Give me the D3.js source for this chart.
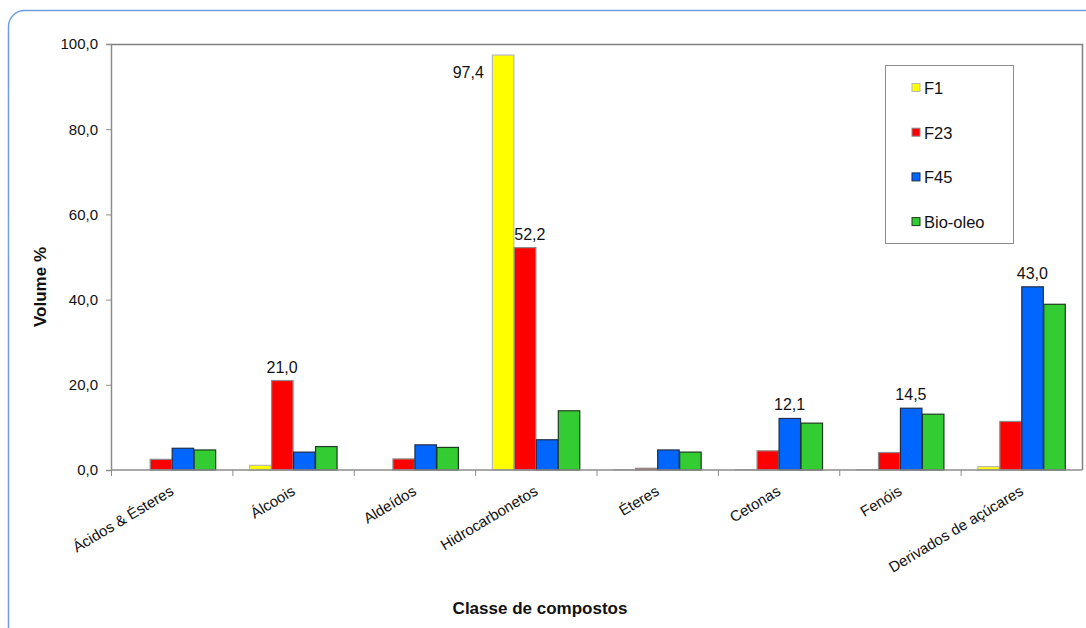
<!DOCTYPE html>
<html>
<head>
<meta charset="utf-8">
<script src="https://cdn.jsdelivr.net/npm/d3@7"></script>
<style>
  html, body { margin: 0; padding: 0; background: #fff; }
  svg { display: block; font-family: "Liberation Sans", Arial, sans-serif; }
</style>
</head>
<body>
<svg id="chart" width="1086" height="628"></svg>
<script>
// Compound classes (x axis)
const categories = [
  "Ácidos & Ésteres", "Álcoois", "Aldeídos", "Hidrocarbonetos",
  "Éteres", "Cetonas", "Fenóis", "Derivados de açúcares"
];

// Volume % per fraction
const seriesNames = ["F1", "F23", "F45", "Bio-oleo"];
const f1      = [0.0, 1.1, 0.0, 97.4, 0.1, 0.1, 0.1, 0.8];
const f23     = [2.5, 21.0, 2.6, 52.2, 0.4, 4.5, 4.1, 11.4];
const f45     = [5.1, 4.2, 5.9, 7.1, 4.7, 12.1, 14.5, 43.0];
const bioOleo = [4.7, 5.5, 5.3, 13.9, 4.2, 11.0, 13.1, 38.9];

// Y axis ticks
const yTicks = [0, 20, 40, 60, 80, 100];

// Values printed above their bars: [category index, series index]
const labelled = [[1, 1], [3, 0], [3, 1], [5, 2], [6, 2], [7, 2]];

const seriesValues = [f1, f23, f45, bioOleo];
const fills   = ["#FFFF00", "#FF0000", "#0066FF", "#33CC33"];
const strokes = ["#b8b8b8", "#8c8c8c", "#1f2d4a", "#1e3a1e"];

const fmt = v => d3.format(".1f")(v).replace(".", ",");

const svg = d3.select("#chart");

// Outer rounded frame
svg.append("rect")
  .attr("x", 8.5).attr("y", 10.5)
  .attr("width", 1100).attr("height", 640)
  .attr("rx", 16).attr("ry", 16)
  .attr("fill", "none")
  .attr("stroke", "#6f9fe0")
  .attr("stroke-width", 1.5);

const plot = { left: 111, right: 1082, top: 44, bottom: 470 };

const x = d3.scaleBand()
  .domain(categories)
  .range([plot.left, plot.right])
  .paddingInner(0).paddingOuter(0);

const xSub = d3.scaleBand()
  .domain(seriesNames)
  .range([0, x.bandwidth()])
  .paddingInner(0)
  .paddingOuter(0.76);

const y = d3.scaleLinear()
  .domain([0, 100])
  .range([plot.bottom, plot.top]);

// Plot area border (top and right)
svg.append("path")
  .attr("d", `M${plot.left},${plot.top + 0.5}H${plot.right + 0.5}V${plot.bottom}`)
  .attr("fill", "none")
  .attr("stroke", "#808080")
  .attr("stroke-width", 1.5);

// Bars
const groups = svg.append("g").selectAll("g")
  .data(categories)
  .join("g")
  .attr("transform", d => `translate(${x(d)},0)`);

groups.selectAll("rect")
  .data((d, i) => seriesNames.map((s, j) => ({ s, j, v: seriesValues[j][i] })))
  .join("rect")
  .filter(d => d.v > 0)
  .attr("x", d => xSub(d.s) + 0.5)
  .attr("y", d => y(d.v))
  .attr("width", xSub.bandwidth() - 0.5)
  .attr("height", d => y(0) - y(d.v))
  .attr("fill", d => fills[d.j])
  .attr("stroke", d => strokes[d.j])
  .attr("stroke-width", 1.2);

// Y axis
const yAxis = d3.axisLeft(y)
  .tickValues(yTicks)
  .tickSize(5)
  .tickPadding(8)
  .tickFormat(fmt);

const gy = svg.append("g")
  .attr("transform", `translate(${plot.left},0)`)
  .call(yAxis);
gy.select(".domain").attr("stroke", "#8c8c8c").attr("stroke-width", 1.5);
gy.selectAll(".tick line").attr("stroke", "#8c8c8c");
gy.selectAll(".tick text")
  .attr("font-size", 15)
  .attr("fill", "#111")
  .attr("font-family", "Liberation Sans, Arial, sans-serif");

// X axis: ticks at category boundaries
const gx = svg.append("g")
  .attr("transform", `translate(0,${plot.bottom})`);
gx.append("line")
  .attr("x1", plot.left).attr("x2", plot.right)
  .attr("stroke", "#8c8c8c").attr("stroke-width", 1.5);
gx.selectAll("line.tick")
  .data(categories)
  .join("line")
  .attr("class", "tick")
  .attr("x1", d => x(d) + 0.5).attr("x2", d => x(d) + 0.5)
  .attr("y1", 0).attr("y2", 6)
  .attr("stroke", "#8c8c8c");

gx.selectAll("text")
  .data(categories)
  .join("text")
  .attr("transform", d => `translate(${x(d) + x.bandwidth() / 2 + 3},${24}) rotate(-31)`)
  .attr("text-anchor", "end")
  .attr("font-size", 15)
  .attr("fill", "#111")
  .text(d => d);

// Value labels
svg.append("g").selectAll("text")
  .data(labelled)
  .join("text")
  .each(function ([ci, si]) {
    const v = seriesValues[si][ci];
    const bx = x(categories[ci]) + xSub(seriesNames[si]);
    const t = d3.select(this);
    if (v > 90) {
      t.attr("x", bx - 8).attr("y", y(v) + 23).attr("text-anchor", "end");
    } else {
      t.attr("x", bx + xSub.bandwidth() / 2 + (si === 1 && v > 50 ? 5 : 0))
        .attr("y", y(v) - 8).attr("text-anchor", "middle");
    }
    t.text(fmt(v));
  })
  .attr("font-size", 16)
  .attr("fill", "#111");

// Axis titles
svg.append("text")
  .attr("transform", "translate(46,287) rotate(-90)")
  .attr("text-anchor", "middle")
  .attr("font-size", 17)
  .attr("font-weight", "bold")
  .attr("fill", "#111")
  .text("Volume %");

svg.append("text")
  .attr("x", 540).attr("y", 614)
  .attr("text-anchor", "middle")
  .attr("font-size", 17)
  .attr("font-weight", "bold")
  .attr("fill", "#111")
  .text("Classe de compostos");

// Legend
const legend = svg.append("g").attr("transform", "translate(885,65)");
legend.append("rect")
  .attr("x", 0.5).attr("y", 0.5)
  .attr("width", 128).attr("height", 178)
  .attr("fill", "#fff")
  .attr("stroke", "#8c8c8c");

const items = legend.selectAll("g.item")
  .data(seriesNames)
  .join("g")
  .attr("class", "item")
  .attr("transform", (d, i) => `translate(27,${23 + i * 44.7})`);
items.append("rect")
  .attr("x", 0).attr("y", -4.5)
  .attr("width", 8).attr("height", 8)
  .attr("fill", (d, i) => fills[i])
  .attr("stroke", (d, i) => strokes[i]);
items.append("text")
  .attr("x", 12).attr("y", 6)
  .attr("font-size", 16.5)
  .attr("fill", "#111")
  .text(d => d);
</script>
</body>
</html>
